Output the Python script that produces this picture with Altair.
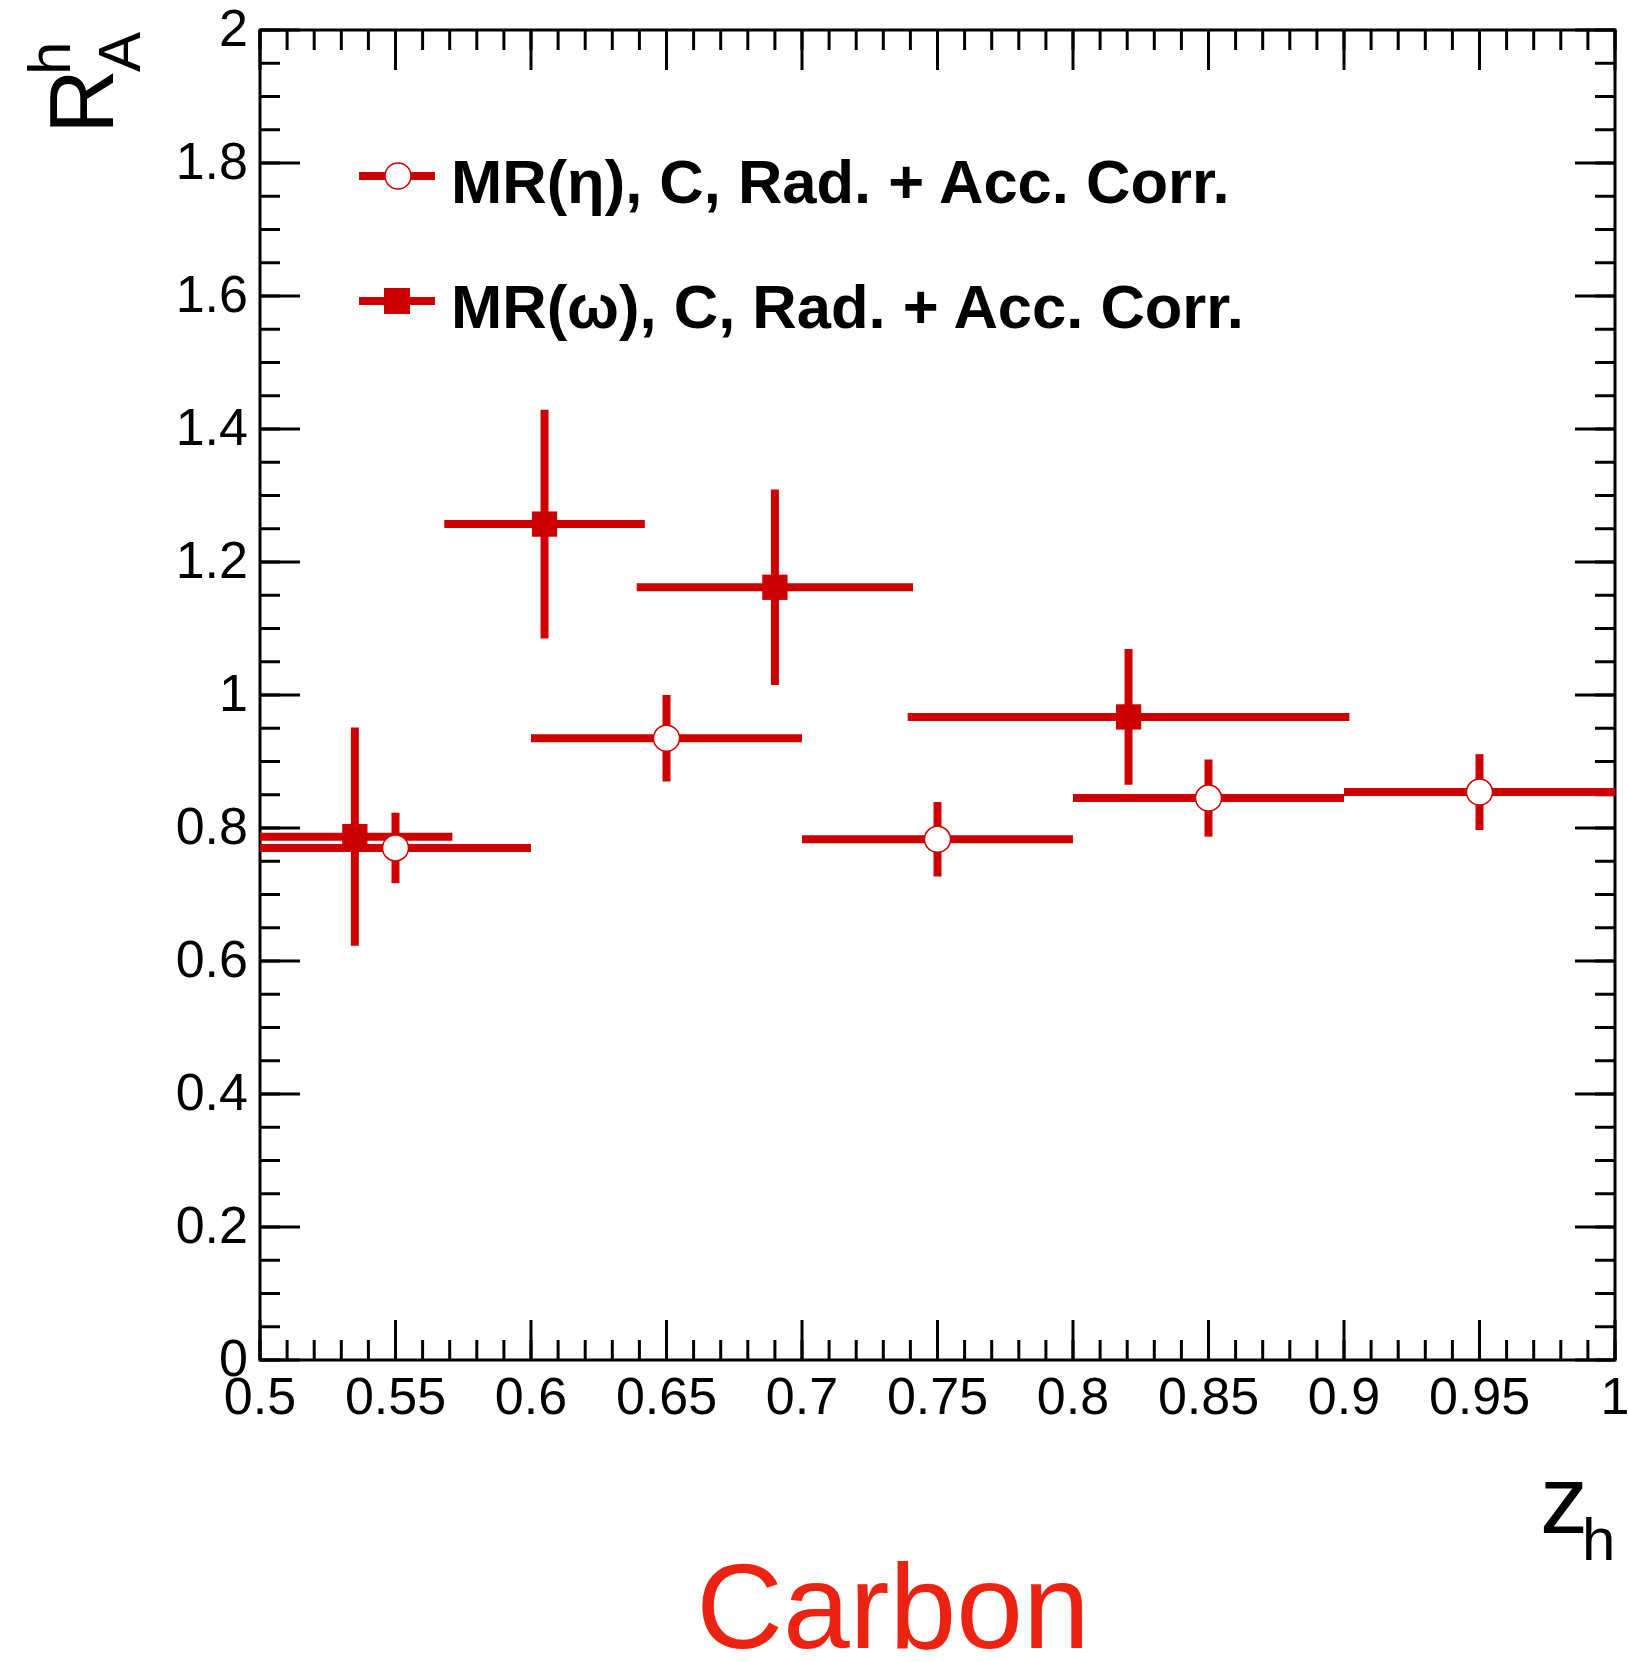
import altair as alt
import pandas as pd

# Nuclear multiplicity ratio R_A^h vs z_h for carbon
eta_z = [0.55, 0.65, 0.75, 0.85, 0.95]
eta_zerr = [0.05, 0.05, 0.05, 0.05, 0.05]
eta_r = [0.770, 0.935, 0.783, 0.845, 0.854]
eta_rerr = [0.053, 0.065, 0.056, 0.058, 0.057]

omega_z = [0.535, 0.605, 0.690, 0.8205]
omega_zerr = [0.036, 0.037, 0.051, 0.0815]
omega_r = [0.787, 1.257, 1.162, 0.967]
omega_rerr = [0.164, 0.172, 0.147, 0.102]

# axis tick values and their labels
x_major = [0.5, 0.55, 0.6, 0.65, 0.7, 0.75, 0.8, 0.85, 0.9, 0.95, 1.0]
x_labels = ["0.5", "0.55", "0.6", "0.65", "0.7", "0.75", "0.8", "0.85", "0.9", "0.95", "1"]
y_major = [0.0, 0.2, 0.4, 0.6, 0.8, 1.0, 1.2, 1.4, 1.6, 1.8, 2.0]
y_labels = ["0", "0.2", "0.4", "0.6", "0.8", "1", "1.2", "1.4", "1.6", "1.8", "2"]
x_minor = [round(0.5 + 0.01 * i, 2) for i in range(51)]
y_minor = [round(0.05 * i, 2) for i in range(41)]

legend_labels = ["MR(η), C, Rad. + Acc. Corr.", "MR(ω), C, Rad. + Acc. Corr."]
y_title = ["R", "h", "A"]
x_title = ["z", "h"]
target_label = "Carbon"

RED = "#cc0000"
FONT = "Liberation Sans"
W, H = 1355, 1330
MAJ, MIN = 40, 20

xs = alt.Scale(domain=[0.5, 1.0], nice=False, zero=False)
ys = alt.Scale(domain=[0.0, 2.0], nice=False, zero=False)


def table(z, zerr, r, rerr):
    return pd.DataFrame({
        "z": z,
        "r": r,
        "zlo": [a - b for a, b in zip(z, zerr)],
        "zhi": [a + b for a, b in zip(z, zerr)],
        "rlo": [a - b for a, b in zip(r, rerr)],
        "rhi": [a + b for a, b in zip(r, rerr)],
    })


eta = table(eta_z, eta_zerr, eta_r, eta_rerr)
omega = table(omega_z, omega_zerr, omega_r, omega_rerr)


def X(field):
    return alt.X(field, scale=xs, axis=None)


def Y(field):
    return alt.Y(field, scale=ys, axis=None)


def xticks(vals, length):
    d = alt.Chart(pd.DataFrame({"v": vals}))
    bottom = d.mark_rule(color="black", strokeWidth=3).encode(
        x=X("v:Q"), y=alt.value(H), y2=alt.value(H - length))
    top = d.mark_rule(color="black", strokeWidth=3).encode(
        x=X("v:Q"), y=alt.value(0), y2=alt.value(length))
    return [bottom, top]


def yticks(vals, length):
    d = alt.Chart(pd.DataFrame({"v": vals}))
    left = d.mark_rule(color="black", strokeWidth=3).encode(
        y=Y("v:Q"), x=alt.value(0), x2=alt.value(length))
    right = d.mark_rule(color="black", strokeWidth=3).encode(
        y=Y("v:Q"), x=alt.value(W), x2=alt.value(W - length))
    return [left, right]


# tick labels
x_tick_text = alt.Chart(pd.DataFrame({"v": x_major, "t": x_labels})).mark_text(
    align="center", baseline="top", font=FONT, fontSize=52, color="black").encode(
    x=X("v:Q"), y=alt.value(H + 13), text="t:N")
y_tick_text = alt.Chart(pd.DataFrame({"v": y_major, "t": y_labels})).mark_text(
    align="right", baseline="middle", font=FONT, fontSize=52, color="black").encode(
    y=Y("v:Q"), x=alt.value(-12), text="t:N")


def error_bars(df):
    c = alt.Chart(df)
    h = c.mark_rule(color=RED, strokeWidth=8, clip=True).encode(
        x=X("zlo:Q"), x2="zhi:Q", y=Y("r:Q"))
    v = c.mark_rule(color=RED, strokeWidth=8, clip=True).encode(
        x=X("z:Q"), y=Y("rlo:Q"), y2="rhi:Q")
    return [h, v]


eta_pts = alt.Chart(eta).mark_point(
    shape="circle", filled=True, fill="white", stroke=RED, strokeWidth=1.5,
    size=676, opacity=1).encode(x=X("z:Q"), y=Y("r:Q"))

omega_pts = alt.Chart(omega).mark_point(
    shape="square", filled=True, color=RED, size=640, opacity=1).encode(
    x=X("z:Q"), y=Y("r:Q"))

# legend entries
leg_layers = []
for i, (label, marker) in enumerate(zip(legend_labels, ["circle", "square"])):
    row_y = 146 + 125 * i
    d = alt.Chart(pd.DataFrame({"label": [label]}))
    leg_layers.append(d.mark_rule(color=RED, strokeWidth=8).encode(
        x=alt.value(99), x2=alt.value(175), y=alt.value(row_y)))
    if marker == "circle":
        leg_layers.append(d.mark_point(shape="circle", filled=True, fill="white",
                                       stroke=RED, strokeWidth=1.5, size=676,
                                       opacity=1).encode(
            x=alt.value(138), y=alt.value(row_y)))
    else:
        leg_layers.append(d.mark_point(shape="square", filled=True, color=RED,
                                       size=676, opacity=1).encode(
            x=alt.value(137), y=alt.value(row_y)))
    leg_layers.append(d.mark_text(align="left", baseline="alphabetic", font=FONT,
                                  fontWeight="bold", fontSize=61.5, color="black").encode(
        x=alt.value(191), y=alt.value(row_y + 27), text="label:N"))

# axis titles with sub/superscripts
yt = pd.DataFrame({"t": y_title})
title_layers = [
    alt.Chart(yt.iloc[[0]]).mark_text(angle=270, align="left", baseline="alphabetic",
                                      font=FONT, fontSize=90, color="black").encode(
        x=alt.value(-147), y=alt.value(104), text="t:N"),
    alt.Chart(yt.iloc[[1]]).mark_text(angle=270, align="left", baseline="alphabetic",
                                      font=FONT, fontSize=60, color="black").encode(
        x=alt.value(-190), y=alt.value(45), text="t:N"),
    alt.Chart(yt.iloc[[2]]).mark_text(angle=270, align="left", baseline="alphabetic",
                                      font=FONT, fontSize=60, color="black").encode(
        x=alt.value(-120), y=alt.value(42), text="t:N"),
]
xt = pd.DataFrame({"t": x_title})
title_layers += [
    alt.Chart(xt.iloc[[0]]).mark_text(align="left", baseline="alphabetic",
                                      font=FONT, fontSize=96, color="black").encode(
        x=alt.value(1280), y=alt.value(1503), text="t:N"),
    alt.Chart(xt.iloc[[1]]).mark_text(align="left", baseline="alphabetic",
                                      font=FONT, fontSize=60, color="black").encode(
        x=alt.value(1322), y=alt.value(1530), text="t:N"),
]

target = alt.Chart(pd.DataFrame({"t": [target_label]})).mark_text(
    align="center", baseline="alphabetic", font=FONT, fontSize=120,
    color="#ec2312").encode(x=alt.value(633), y=alt.value(1618), text="t:N")

layers = (
    xticks(x_minor, MIN) + xticks(x_major, MAJ)
    + yticks(y_minor, MIN) + yticks(y_major, MAJ)
    + [x_tick_text, y_tick_text]
    + error_bars(omega) + error_bars(eta)
    + [omega_pts, eta_pts]
    + leg_layers + title_layers + [target]
)

chart = alt.layer(*layers).properties(
    width=W, height=H,
    padding={"left": 260, "top": 30, "right": 13, "bottom": 302},
    autosize=alt.AutoSizeParams(type="none"),
    background="white",
).configure_view(stroke="black", strokeWidth=3)

chart.save("out.html", embed_options={"renderer": "svg", "actions": False})
